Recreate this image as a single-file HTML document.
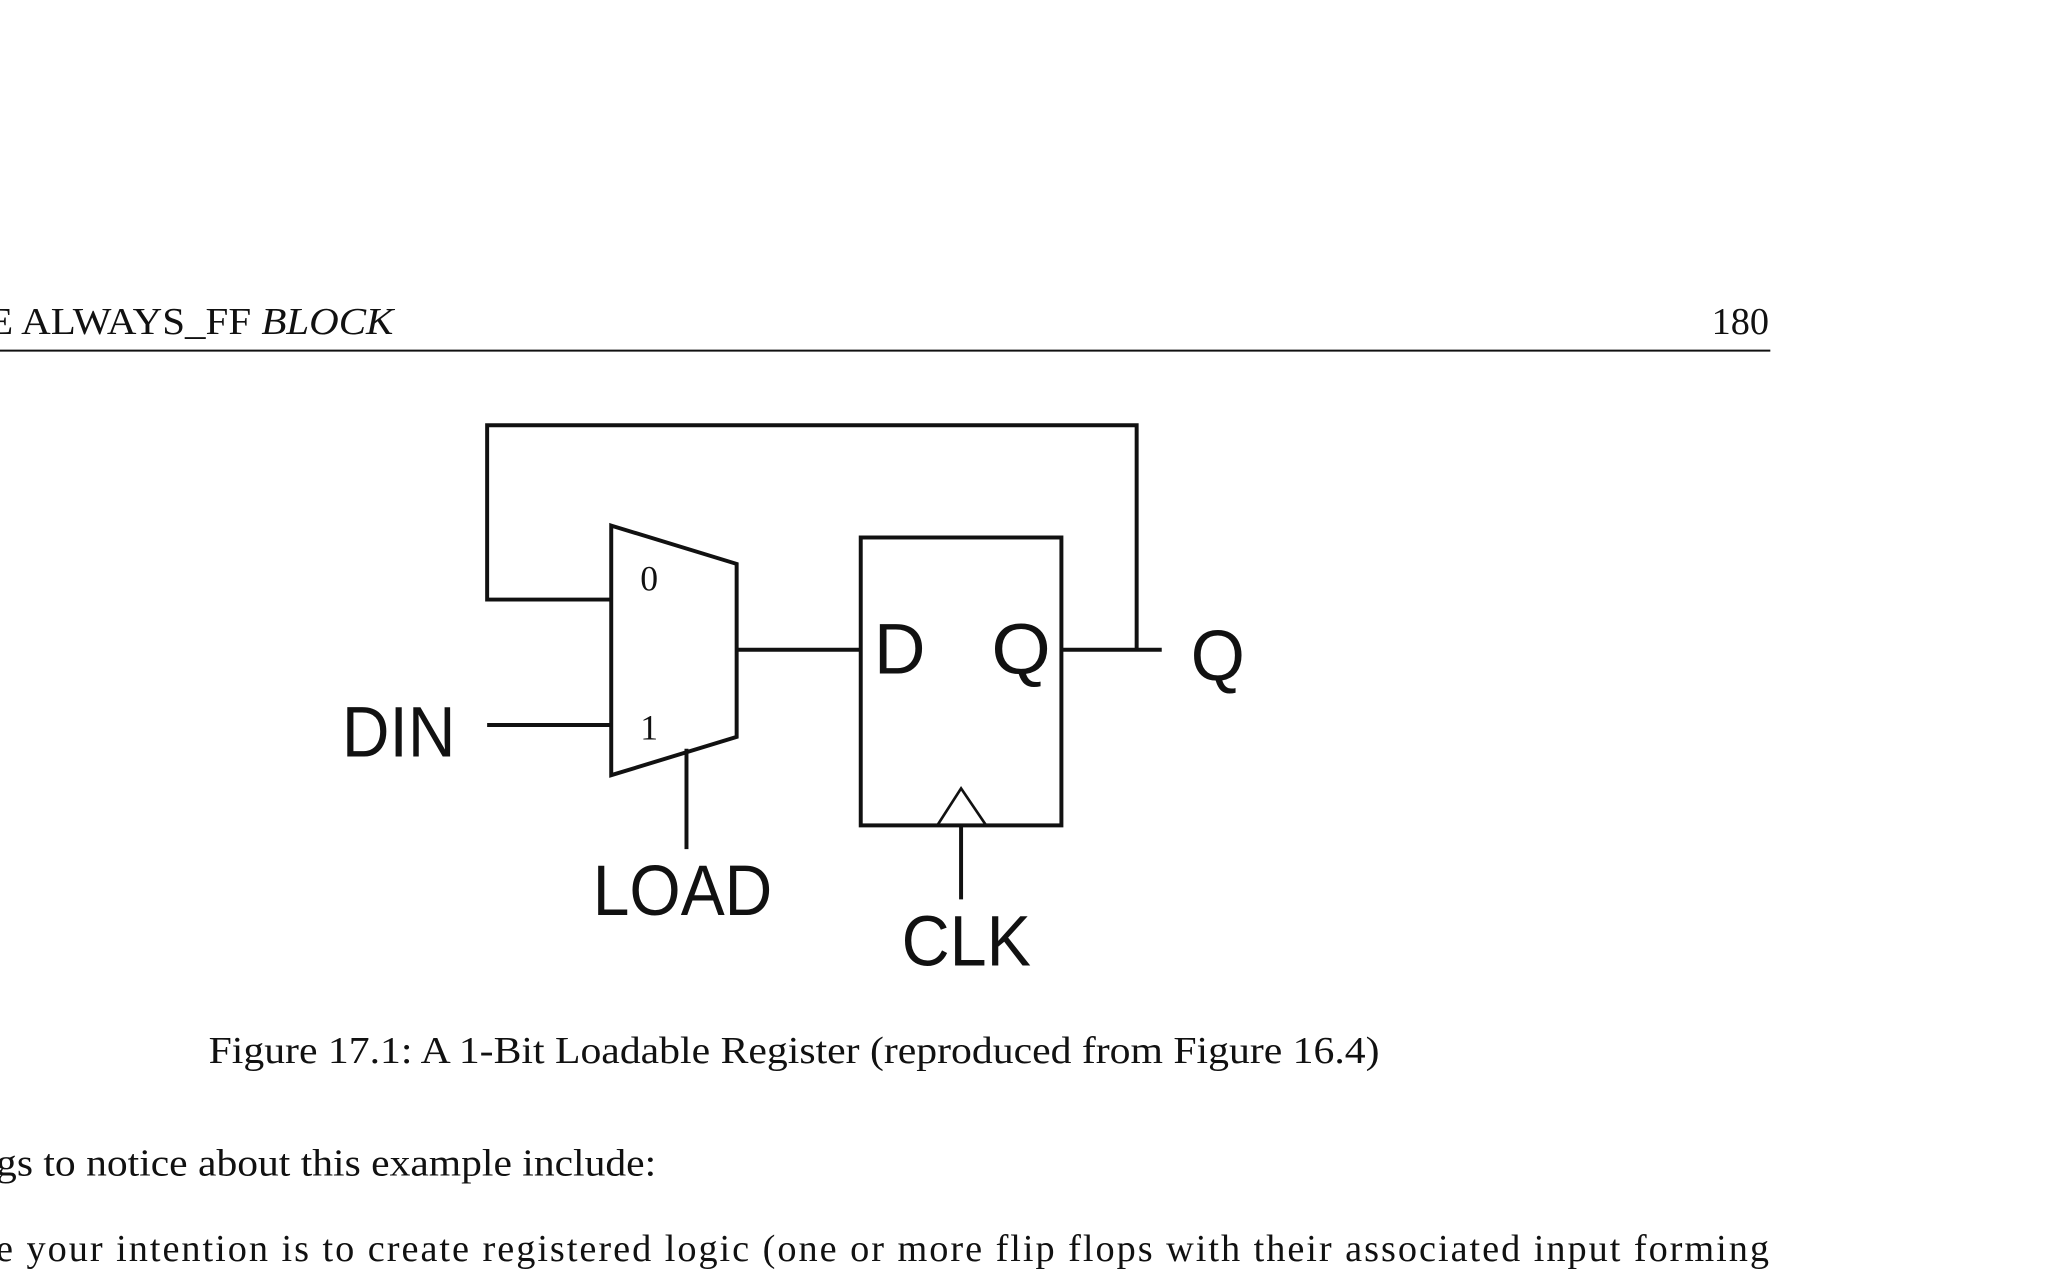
<!DOCTYPE html>
<html><head><meta charset="utf-8"><style>
html,body{margin:0;padding:0;background:#fff;}
svg{display:block;}
</style></head><body>
<svg width="2070" height="1281" viewBox="0 0 1568 970" preserveAspectRatio="none" xmlns="http://www.w3.org/2000/svg">
<g font-family="'Liberation Serif', serif" font-size="29" fill="#111">
<text x="-9" y="253" textLength="307" lengthAdjust="spacingAndGlyphs">E ALWAYS_FF <tspan font-style="italic">BLOCK</tspan></text>
<text x="1340" y="253" text-anchor="end">180</text>
<text x="158" y="805" textLength="887" lengthAdjust="spacingAndGlyphs">Figure 17.1: A 1-Bit Loadable Register (reproduced from Figure 16.4)</text>
<text x="-3" y="890" textLength="500" lengthAdjust="spacingAndGlyphs">gs to notice about this example include:</text>
<text x="-3" y="955" textLength="1343" lengthAdjust="spacing">e your intention is to create registered logic (one or more flip flops with their associated input forming</text>
</g>
<line x1="0" y1="265.5" x2="1341" y2="265.5" stroke="#111" stroke-width="1.5"/>
<g fill="none" stroke="#111" stroke-width="3" stroke-linejoin="miter">
<polyline points="463,454 369,454 369,322 861,322 861,492"/>
<polygon points="463,398 558,427 558,558 463,587"/>
<line x1="558" y1="492" x2="652" y2="492"/>
<rect x="652" y="407" width="152" height="218"/>
<line x1="804" y1="492" x2="880" y2="492"/>
<line x1="369" y1="549" x2="463" y2="549"/>
<line x1="520" y1="567" x2="520" y2="643"/>
<polyline points="710,625 728,597 747,625" stroke-width="2"/>
<line x1="728" y1="625" x2="728" y2="681"/>
</g>
<g font-family="'Liberation Serif', serif" font-size="27" fill="#111">
<text x="485" y="447">0</text>
<text x="485" y="560">1</text>
</g>
<g font-family="'Liberation Sans', sans-serif" font-size="54" fill="#111">
<text x="259" y="573" textLength="86" lengthAdjust="spacingAndGlyphs">DIN</text>
<text x="662" y="510" textLength="39" lengthAdjust="spacingAndGlyphs">D</text>
<text x="751" y="510" textLength="45" lengthAdjust="spacingAndGlyphs">Q</text>
<text x="902" y="515" textLength="41" lengthAdjust="spacingAndGlyphs">Q</text>
<text x="449" y="693" textLength="136" lengthAdjust="spacingAndGlyphs">LOAD</text>
<text x="683" y="731" textLength="98" lengthAdjust="spacingAndGlyphs">CLK</text>
</g>
</svg>
</body></html>
